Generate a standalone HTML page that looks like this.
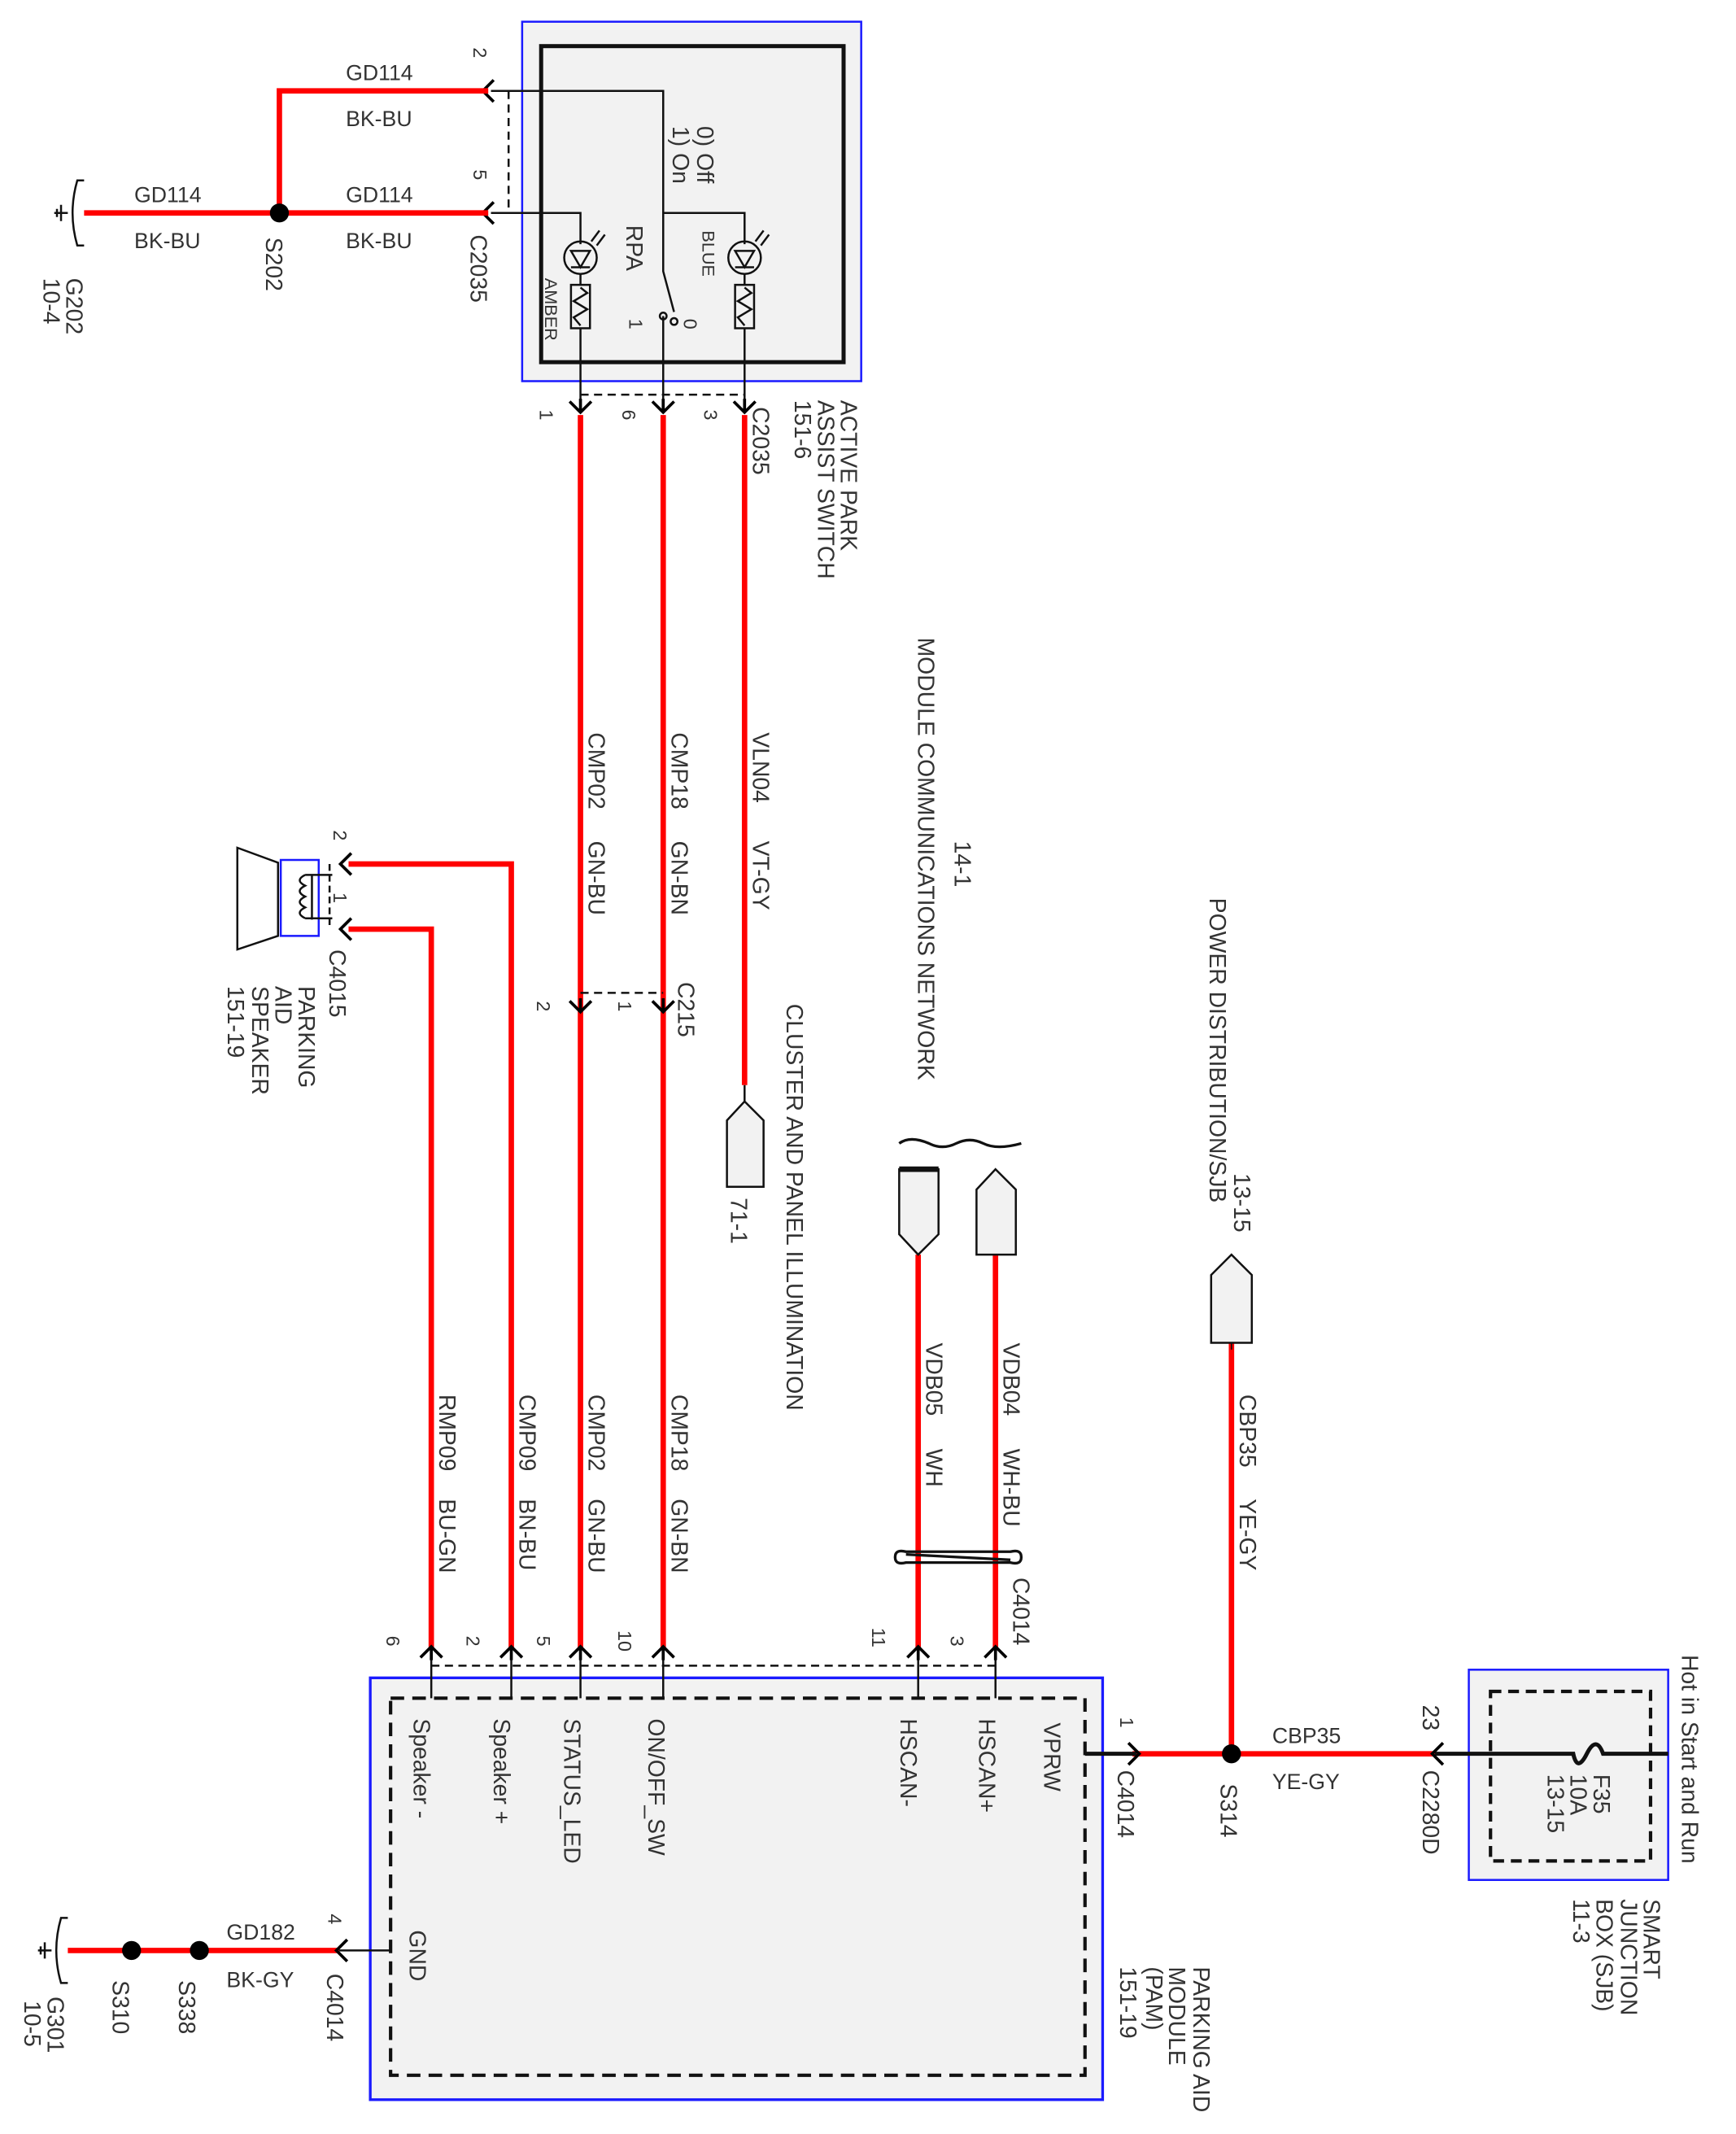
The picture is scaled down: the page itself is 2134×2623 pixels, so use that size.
<!DOCTYPE html>
<html><head><meta charset="utf-8"><style>
html,body{margin:0;padding:0;background:#fff;}
svg{display:block;}
text{font-family:"Liberation Sans",sans-serif;fill:#333;}
</style></head><body>
<svg width="2134" height="2623" viewBox="0 0 1280 1573.3" xmlns="http://www.w3.org/2000/svg">
<defs>
<g id="ad"><path d="M-8,-8 L0,0 L8,-8 M0,0 L0,-10" stroke="#000" stroke-width="2.2" fill="none"/></g>
<g id="au"><path d="M-8,8 L0,0 L8,8 M0,0 L0,10" stroke="#000" stroke-width="2.2" fill="none"/></g>
<g id="al"><path d="M8,-8 L0,0 L8,8" stroke="#000" stroke-width="2.2" fill="none"/></g>
<g id="ar"><path d="M-8,-8 L0,0 L-8,8" stroke="#000" stroke-width="2.2" fill="none"/></g>
</defs>

<rect x="385" y="16" width="250" height="265" fill="#f2f2f2" stroke="#1a1aff" stroke-width="1.5"/>
<rect x="399" y="34" width="223" height="233" fill="none" stroke="#111" stroke-width="3"/>
<g stroke="#111" stroke-width="1.5" fill="none">
<path d="M362,67 H489 V157 M362,157 H428 V180 M489,157 H549 V180 M489,157 V200 L497,230"/>
<path d="M489,233 V300"/>
<circle cx="489" cy="233" r="2.5"/><circle cx="497" cy="237" r="2.5"/>
<circle cx="428" cy="190" r="12"/><circle cx="549" cy="190" r="12"/>
<path d="M421,185 H435 L428,197 Z M421,197 H435"/><path d="M542,185 H556 L549,197 Z M542,197 H556"/>
<path d="M436,178 l6,-8 M440,181 l6,-8 M557,178 l6,-8 M561,181 l6,-8"/>
<path d="M428,202 V210 M549,202 V210"/>
<rect x="421" y="210" width="14" height="32"/><rect x="542" y="210" width="14" height="32"/>
<path d="M428,212 l5,4 l-10,6 l10,6 l-10,6 l5,6 M549,212 l5,4 l-10,6 l10,6 l-10,6 l5,6"/>
<path d="M428,242 V300 M549,242 V300"/>
</g>
<path d="M375,67 V157" stroke="#111" stroke-width="1.5" stroke-dasharray="6,4"/>
<path d="M428,291 H549" stroke="#111" stroke-width="1.5" stroke-dasharray="6,4"/>
<use href="#al" x="356" y="67"/><use href="#al" x="356" y="157"/>
<use href="#ad" x="428" y="304"/><use href="#ad" x="489" y="304"/><use href="#ad" x="549" y="304"/>

<g stroke="#f00" stroke-width="4" fill="none">
<path d="M360,67 H206 V157 M360,157 H62"/>
<path d="M428,306 V1215 M489,306 V1215 M549,306 V800"/>
<path d="M257,637 H377 V1215 M257,685 H318 V1215"/>
<path d="M677,925 V1215 M734,925 V1215 M908,990 V1293"/>
<path d="M835,1293 H1058 M50,1438 H250"/>
</g>
<circle cx="206" cy="157" r="7" fill="#000"/>
<g stroke="#111" stroke-width="1.5" fill="none">
<path d="M62,133 H57 Q50,157 57,181 H62"/><path d="M50,157 H40 M45,151 V163 M42,154 V160"/>
</g>

<use href="#ad" x="428" y="746"/><use href="#ad" x="489" y="746"/>
<path d="M428,732 H489" stroke="#111" stroke-width="1.5" stroke-dasharray="6,4"/>
<path d="M549,800 V812 M536,826 L549,812 L563,826 V875 H536 Z" stroke="#111" stroke-width="1.5" fill="#f2f2f2"/>

<g stroke="#111" stroke-width="1.5" fill="none">
<path d="M175,625 L205,636 V690 L175,700 Z"/>
<rect x="207" y="634" width="28" height="56" stroke="#1a1aff"/>
<path d="M225,645 q-8,4 0,8 q-8,4 0,8 q-8,4 0,8 q-8,4 0,8 M230,645 V678 M225,645 H245 M225,677 H245"/>
</g>
<path d="M243,637 V685" stroke="#111" stroke-width="1.5" stroke-dasharray="5,3"/>
<use href="#al" x="251" y="637"/><use href="#al" x="251" y="685"/>

<g stroke="#111" stroke-width="1.5" fill="#f2f2f2">
<path d="M663,862 H692 V910 L677,925 L663,910 Z"/>
<path d="M663,862 H692" stroke-width="4"/>
<path d="M720,925 V877 L734,862 L749,877 V925 Z"/>
<path d="M893,990 V940 L908,925 L923,940 V990 Z"/>
</g>
<path d="M908,990 V995" stroke="#111"/>
<path d="M663,843 q8,-6 22,0 q10,5 20,0 q10,-5 20,0 q10,5 28,0" stroke="#111" stroke-width="2" fill="none"/>
<path d="M660,1148 q0,-6 8,-4 H745 q8,-2 8,4 q0,6 -8,4 H668 q-8,2 -8,-4 Z" stroke="#111" stroke-width="2" fill="none"/>
<path d="M668,1146 L745,1150" stroke="#111" stroke-width="2"/>

<rect x="273" y="1237" width="540" height="311" fill="#f2f2f2" stroke="#1a1aff" stroke-width="2"/>
<rect x="288" y="1252" width="512" height="278" fill="none" stroke="#111" stroke-width="2.5" stroke-dasharray="10,6"/>
<path d="M318,1228 H734" stroke="#111" stroke-width="1.5" stroke-dasharray="6,4"/>
<g stroke="#111" stroke-width="1.5"><path d="M318,1215 V1252 M377,1215 V1252 M428,1215 V1252 M489,1215 V1252 M677,1215 V1252 M734,1215 V1252"/></g>
<use href="#au" x="318" y="1214"/><use href="#au" x="377" y="1214"/><use href="#au" x="428" y="1214"/><use href="#au" x="489" y="1214"/><use href="#au" x="677" y="1214"/><use href="#au" x="734" y="1214"/>
<path d="M800,1293 H838" stroke="#111" stroke-width="3"/>
<use href="#ar" x="840" y="1293"/>
<circle cx="908" cy="1293" r="7" fill="#000"/>
<rect x="1083" y="1231" width="147" height="155" fill="#f2f2f2" stroke="#1a1aff" stroke-width="1.5"/>
<rect x="1099" y="1247" width="118" height="125" fill="none" stroke="#111" stroke-width="2.5" stroke-dasharray="8,5"/>
<path d="M1058,1293 H1160 q3,14 10,0 q7,-14 12,0 H1230" stroke="#111" stroke-width="3" fill="none"/>
<use href="#al" x="1056" y="1293"/>
<path d="M250,1438 H288" stroke="#111" stroke-width="1.5"/>
<use href="#al" x="248" y="1438"/>
<circle cx="97" cy="1438" r="7" fill="#000"/><circle cx="147" cy="1438" r="7" fill="#000"/>
<g stroke="#111" stroke-width="1.5" fill="none">
<path d="M50,1414 H45 Q38,1438 45,1462 H50"/><path d="M38,1438 H28 M33,1432 V1444 M30,1435 V1441"/>
</g>

<g font-size="16">
<text x="255" y="59">GD114</text><text x="255" y="93">BK-BU</text>
<text x="99" y="149">GD114</text><text x="99" y="183">BK-BU</text>
<text x="255" y="149">GD114</text><text x="255" y="183">BK-BU</text>
<text x="938" y="1285">CBP35</text><text x="938" y="1319">YE-GY</text>
<text x="167" y="1430">GD182</text><text x="167" y="1465">BK-GY</text>
</g>

<g font-size="17">
<text transform="translate(349,35) rotate(90)" font-size="14">2</text>
<text transform="translate(349,125) rotate(90)" font-size="14">5</text>
<text transform="translate(347,173) rotate(90)">C2035</text>
<text transform="translate(196,175) rotate(90)">S202</text>
<text transform="translate(49,205) rotate(90)">G202</text>
<text transform="translate(32,205) rotate(90)">10-4</text>
<text transform="translate(514,93) rotate(90)">0) Off</text>
<text transform="translate(496,93) rotate(90)">1) On</text>
<text transform="translate(462,166) rotate(90)">RPA</text>
<text transform="translate(518,170) rotate(90)" font-size="13">BLUE</text>
<text transform="translate(402,205) rotate(90)" font-size="13">AMBER</text>
<text transform="translate(464,235) rotate(90)" font-size="14">1</text>
<text transform="translate(504,235) rotate(90)" font-size="14">0</text>
<text transform="translate(398,302) rotate(90)" font-size="14">1</text>
<text transform="translate(459,302) rotate(90)" font-size="14">6</text>
<text transform="translate(519,302) rotate(90)" font-size="14">3</text>
<text transform="translate(555,300) rotate(90)">C2035</text>
<text transform="translate(620,295) rotate(90)">ACTIVE PARK</text>
<text transform="translate(603,295) rotate(90)">ASSIST SWITCH</text>
<text transform="translate(586,295) rotate(90)">151-6</text>
<text transform="translate(434,540) rotate(90)">CMP02</text><text transform="translate(434,620) rotate(90)">GN-BU</text>
<text transform="translate(495,540) rotate(90)">CMP18</text><text transform="translate(495,620) rotate(90)">GN-BN</text>
<text transform="translate(555,540) rotate(90)">VLN04</text><text transform="translate(555,620) rotate(90)">VT-GY</text>
<text transform="translate(677,470) rotate(90)">MODULE COMMUNICATIONS NETWORK</text>
<text transform="translate(704,620) rotate(90)">14-1</text>
<text transform="translate(892,662) rotate(90)">POWER DISTRIBUTION/SJB</text>
<text transform="translate(910,865) rotate(90)">13-15</text>
<text transform="translate(580,740) rotate(90)">CLUSTER AND PANEL ILLUMINATION</text>
<text transform="translate(539,883) rotate(90)">71-1</text>
<text transform="translate(396,738) rotate(90)" font-size="14">2</text>
<text transform="translate(456,738) rotate(90)" font-size="14">1</text>
<text transform="translate(500,724) rotate(90)">C215</text>
<text transform="translate(246,612) rotate(90)" font-size="14">2</text>
<text transform="translate(246,658) rotate(90)" font-size="14">1</text>
<text transform="translate(243,700) rotate(90)">C4015</text>
<text transform="translate(220,727) rotate(90)">PARKING</text>
<text transform="translate(203,727) rotate(90)">AID</text>
<text transform="translate(186,727) rotate(90)">SPEAKER</text>
<text transform="translate(168,727) rotate(90)">151-19</text>
<text transform="translate(324,1028) rotate(90)">RMP09</text><text transform="translate(324,1105) rotate(90)">BU-GN</text>
<text transform="translate(383,1028) rotate(90)">CMP09</text><text transform="translate(383,1105) rotate(90)">BN-BU</text>
<text transform="translate(434,1028) rotate(90)">CMP02</text><text transform="translate(434,1105) rotate(90)">GN-BU</text>
<text transform="translate(495,1028) rotate(90)">CMP18</text><text transform="translate(495,1105) rotate(90)">GN-BN</text>
<text transform="translate(683,990) rotate(90)">VDB05</text><text transform="translate(683,1068) rotate(90)">WH</text>
<text transform="translate(740,990) rotate(90)">VDB04</text><text transform="translate(740,1068) rotate(90)">WH-BU</text>
<text transform="translate(914,1028) rotate(90)">CBP35</text><text transform="translate(914,1105) rotate(90)">YE-GY</text>
<text transform="translate(747,1163) rotate(90)">C4014</text>
<text transform="translate(285,1206) rotate(90)" font-size="14">6</text>
<text transform="translate(344,1206) rotate(90)" font-size="14">2</text>
<text transform="translate(396,1206) rotate(90)" font-size="14">5</text>
<text transform="translate(456,1202) rotate(90)" font-size="14">10</text>
<text transform="translate(643,1200) rotate(90)" font-size="14">11</text>
<text transform="translate(701,1206) rotate(90)" font-size="14">3</text>
<text transform="translate(305,1267) rotate(90)">Speaker -</text>
<text transform="translate(364,1267) rotate(90)">Speaker +</text>
<text transform="translate(416,1267) rotate(90)">STATUS_LED</text>
<text transform="translate(478,1267) rotate(90)">ON/OFF_SW</text>
<text transform="translate(664,1267) rotate(90)">HSCAN-</text>
<text transform="translate(722,1267) rotate(90)">HSCAN+</text>
<text transform="translate(770,1270) rotate(90)">VPRW</text>
<text transform="translate(302,1423) rotate(90)">GND</text>
<text transform="translate(826,1266) rotate(90)" font-size="14">1</text>
<text transform="translate(824,1305) rotate(90)">C4014</text>
<text transform="translate(900,1315) rotate(90)">S314</text>
<text transform="translate(1049,1257) rotate(90)">23</text>
<text transform="translate(1049,1305) rotate(90)">C2280D</text>
<text transform="translate(1175,1308) rotate(90)">F35</text>
<text transform="translate(1158,1308) rotate(90)">10A</text>
<text transform="translate(1141,1308) rotate(90)">13-15</text>
<text transform="translate(1240,1220) rotate(90)">Hot in Start and Run</text>
<text transform="translate(1212,1400) rotate(90)">SMART</text>
<text transform="translate(1195,1400) rotate(90)">JUNCTION</text>
<text transform="translate(1177,1400) rotate(90)">BOX (SJB)</text>
<text transform="translate(1160,1400) rotate(90)">11-3</text>
<text transform="translate(880,1450) rotate(90)">PARKING AID</text>
<text transform="translate(862,1450) rotate(90)">MODULE</text>
<text transform="translate(845,1450) rotate(90)">(PAM)</text>
<text transform="translate(826,1450) rotate(90)">151-19</text>
<text transform="translate(242,1411) rotate(90)" font-size="14">4</text>
<text transform="translate(241,1455) rotate(90)">C4014</text>
<text transform="translate(132,1460) rotate(90)">S338</text>
<text transform="translate(83,1460) rotate(90)">S310</text>
<text transform="translate(35,1472) rotate(90)">G301</text>
<text transform="translate(18,1475) rotate(90)">10-5</text>
</g>
</svg>
</body></html>
